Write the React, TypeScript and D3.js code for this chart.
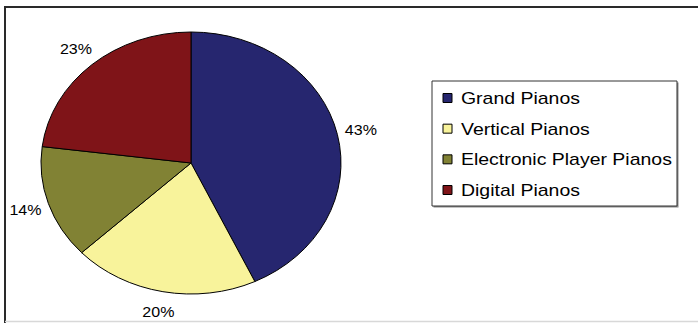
import React from "react";
import * as d3 from "d3";

const categories = ["Grand Pianos", "Vertical Pianos", "Electronic Player Pianos", "Digital Pianos"];
const values = [43, 20, 14, 23];
const colors = ["#26266F", "#F8F39B", "#818234", "#7F1418"];

const W = 698;
const H = 323;
const SX = 1.145; // horizontal stretch of the original image

export default function App() {
  const cx = 191 / SX;
  const cy = 163;
  const r = 131;
  const pie = d3.pie<number>().sort(null).startAngle(0).endAngle(2 * Math.PI);
  const arcs = pie(values);
  const arc = d3.arc<d3.PieArcDatum<number>>().innerRadius(0).outerRadius(r);
  const labelArc = d3.arc<d3.PieArcDatum<number>>().innerRadius(152).outerRadius(152);
  const total = d3.sum(values);
  const fmt = (v: number) => `${Math.round((v / total) * 100)}%`;

  const lx = 432 / SX;
  const ly = 81;
  const lw = (677 - 432) / SX;
  const lh = 125;
  const legendY = d3.scalePoint<string>().domain(categories).range([98, 190]);

  return (
    <svg
      width={W}
      height={H}
      style={{ position: "absolute", left: 0, top: 0, background: "#fff" }}
      fontFamily="'Liberation Sans', Arial, sans-serif"
    >
      <rect x={0} y={0} width={W} height={H} fill="#fff" />
      {/* frame */}
      <line x1={4} x2={W} y1={7} y2={7} stroke="#2a2a2a" strokeWidth={2} />
      <line x1={5} x2={5} y1={6} y2={H} stroke="#2a2a2a" strokeWidth={2} />
      <line x1={5} x2={W} y1={321.5} y2={321.5} stroke="#d8d8d8" strokeWidth={1.5} />
      <g transform={`scale(${SX},1)`}>
        <g transform={`translate(${cx},${cy})`}>
          {arcs.map((a, i) => (
            <path
              key={i}
              d={arc(a) || ""}
              fill={colors[i]}
              stroke="#000"
              strokeWidth={1}
              vectorEffect="non-scaling-stroke"
            />
          ))}
          {arcs.map((a, i) => {
            const [x, y] = labelArc.centroid(a);
            return (
              <text
                key={i}
                x={x}
                y={y}
                textAnchor="middle"
                dominantBaseline="central"
                fontSize={14}
                fill="#000"
              >
                {fmt(a.data)}
              </text>
            );
          })}
        </g>
        {/* legend */}
        <rect x={lx + 1.5 / SX} y={ly + 1.5} width={lw} height={lh} fill="#888" />
        <rect
          x={lx}
          y={ly}
          width={lw}
          height={lh}
          fill="#fff"
          stroke="#333"
          strokeWidth={1}
          vectorEffect="non-scaling-stroke"
        />
        {categories.map((c, i) => {
          const y = legendY(c) as number;
          return (
            <g key={c}>
              <rect
                x={443 / SX}
                y={y - 4.5}
                width={9 / SX}
                height={9}
                fill={colors[i]}
                stroke="#000"
                strokeWidth={1}
                vectorEffect="non-scaling-stroke"
              />
              <text x={461 / SX} y={y} dominantBaseline="central" fontSize={17} fill="#000">
                {c}
              </text>
            </g>
          );
        })}
      </g>
    </svg>
  );
}
